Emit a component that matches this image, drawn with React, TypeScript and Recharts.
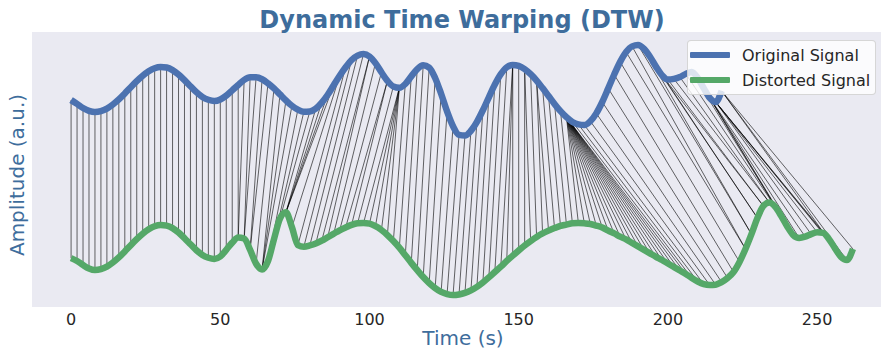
import React from "react";
import { LineChart, Line, XAxis, YAxis, CartesianGrid } from "recharts";

// sampling step of both signals (s)
const SAMPLE_STEP = 2;

// Original signal, sampled every 2 s from t = 0 to 218 (a.u.)
const originalSignal = [
  -0.32, -0.44, -0.57, -0.66, -0.70, -0.67, -0.59, -0.46, -0.30, -0.11,
  0.09, 0.28, 0.45, 0.59, 0.69, 0.73, 0.71, 0.63, 0.49, 0.31,
  0.12, -0.07, -0.22, -0.31, -0.35, -0.30, -0.18, -0.01, 0.16, 0.32,
  0.40, 0.40, 0.34, 0.21, 0.05, -0.14, -0.33, -0.50, -0.62, -0.69,
  -0.68, -0.59, -0.40, -0.15, 0.15, 0.45, 0.72, 0.95, 1.09, 1.14,
  1.06, 0.85, 0.56, 0.29, 0.11, 0.07, 0.19, 0.43, 0.66, 0.78,
  0.71, 0.38, -0.12, -0.68, -1.15, -1.42, -1.44, -1.29, -1.01, -0.64,
  -0.23, 0.17, 0.50, 0.72, 0.79, 0.76, 0.66, 0.50, 0.30, 0.06,
  -0.19, -0.44, -0.67, -0.86, -1.01, -1.09, -1.11, -0.99, -0.74, -0.38,
  0.05, 0.49, 0.89, 1.20, 1.38, 1.42, 1.30, 1.05, 0.74, 0.47,
  0.33, 0.35, 0.41, 0.51, 0.57, 0.38, 0.06, -0.25, -0.38, -0.03,
];

// Distorted signal, sampled every 2 s from t = 0 to 262 (a.u., before display offset)
const distortedSignal = [
  -0.32, -0.41, -0.54, -0.65, -0.70, -0.67, -0.59, -0.46, -0.30, -0.11,
  0.09, 0.28, 0.45, 0.59, 0.69, 0.73, 0.71, 0.63, 0.49, 0.31,
  0.12, -0.07, -0.22, -0.31, -0.35, -0.27, -0.06, 0.17, 0.33, 0.30,
  -0.06, -0.50, -0.68, -0.41, 0.28, 0.93, 1.13, 0.66, 0.09, 0.04,
  0.08, 0.14, 0.23, 0.34, 0.45, 0.56, 0.65, 0.73, 0.78, 0.79,
  0.77, 0.69, 0.57, 0.41, 0.22, 0.01, -0.23, -0.47, -0.70, -0.92,
  -1.11, -1.27, -1.39, -1.46, -1.49, -1.47, -1.42, -1.34, -1.23, -1.09,
  -0.93, -0.76, -0.59, -0.41, -0.24, -0.08, 0.08, 0.22, 0.35, 0.46,
  0.55, 0.63, 0.70, 0.74, 0.78, 0.79, 0.78, 0.76, 0.71, 0.65,
  0.55, 0.46, 0.36, 0.27, 0.16, 0.05, -0.06, -0.17, -0.28, -0.38,
  -0.49, -0.60, -0.71, -0.82, -0.95, -1.06, -1.14, -1.17, -1.16, -1.08,
  -0.95, -0.76, -0.44, -0.03, 0.44, 0.95, 1.33, 1.44, 1.30, 1.01,
  0.68, 0.41, 0.32, 0.36, 0.44, 0.50, 0.48, 0.28, -0.01, -0.28,
  -0.38, -0.03,
];

// vertical offset used to display the distorted signal below the original
const DISTORTED_OFFSET = -5;

// DTW warping path: matched times (s) in the original / distorted signal
const pathOriginal = [
  0, 2, 4, 6, 8, 10, 12, 14, 16, 18, 20, 22, 24, 26, 28, 30, 32, 34, 36, 38, 40, 42, 44, 46, 48, 50, 52, 54,
  56, 58, 60, 62, 64, 66, 68, 70, 72, 74, 76, 78, 80, 82, 84, 86, 88,
  90, 92, 94, 96, 98, 100, 100, 102, 104, 106, 106, 108, 110, 110, 110, 110, 110, 112, 114, 116, 118, 120, 122,
  124, 126, 128, 130, 132, 134, 136, 138, 140, 142, 144, 146, 148, 148, 148, 150, 152, 152, 154, 156, 156, 158,
  160, 162, 164,
  166, 166, 166, 166, 166, 166, 166, 166, 166, 166, 166, 166, 166, 166, 166, 166, 166, 166, 166,
  168, 170, 172, 174, 176, 178, 180, 182, 184, 186, 188, 190, 192, 194, 196, 198, 200, 202, 204, 206, 208, 210,
  212, 214, 214, 216, 216, 216, 216, 216, 218, 218, 218,
];
const pathDistorted = [
  0, 2, 4, 6, 8, 10, 12, 14, 16, 18, 20, 22, 24, 26, 28, 30, 32, 34, 36, 38, 40, 42, 44, 46, 48, 50, 52, 54,
  56, 56, 58, 58, 60, 60, 62, 64, 64, 64, 66, 68, 70, 72, 72, 72, 72,
  74, 76, 78, 80, 82, 84, 86, 88, 90, 92, 94, 96, 98, 100, 102, 104, 106, 108, 110, 112, 114, 116, 118,
  120, 122, 124, 126, 128, 130, 132, 134, 136, 138, 140, 142, 144, 146, 148, 150, 152, 154, 156, 158, 160, 162,
  164, 166, 168,
  170, 172, 174, 176, 178, 180, 182, 184, 186, 188, 190, 192, 194, 196, 198, 200, 202, 204, 206,
  208, 210, 212, 214, 216, 218, 220, 222, 224, 226, 226, 228, 228, 230, 230, 232, 232, 234, 234, 236, 238, 240,
  242, 244, 246, 248, 250, 252, 254, 256, 258, 260, 262,
];

const seriesNames = ["Original Signal", "Distorted Signal"];
const seriesColors = ["#4C72B0", "#55A868"];
const xTicks = [0, 50, 100, 150, 200, 250];

const originalData = originalSignal.map((v, i) => ({ t: i * SAMPLE_STEP, v }));
const distortedData = distortedSignal.map((v, i) => ({ t: i * SAMPLE_STEP, v: v + DISTORTED_OFFSET }));

const connectorData: { t: number; v: number | null }[] = [];
pathOriginal.forEach((to, k) => {
  const td = pathDistorted[k];
  connectorData.push({ t: to, v: originalSignal[to / SAMPLE_STEP] });
  connectorData.push({ t: td, v: distortedSignal[td / SAMPLE_STEP] + DISTORTED_OFFSET });
  connectorData.push({ t: td, v: null });
});

const FONT = "'DejaVu Sans', Verdana, sans-serif";
const LABEL_COLOR = "#3E6D9C";

export default function App() {
  return (
    <div
      style={{
        position: "absolute",
        left: 0,
        top: 0,
        width: 881,
        height: 352,
        overflow: "hidden",
        background: "#ffffff",
        fontFamily: FONT,
      }}
    >
      <LineChart width={895} height={352} margin={{ top: 32, right: 3, bottom: 15, left: 32 }}>
        <CartesianGrid fill="#EAEAF2" stroke="none" horizontal={false} vertical={false} />
        <XAxis
          type="number"
          dataKey="t"
          domain={[-13.1, 275.1]}
          ticks={xTicks}
          allowDataOverflow
          axisLine={false}
          tickLine={false}
          height={30}
          tickMargin={1}
          tick={{ fontSize: 16, fill: "#262626", fontFamily: FONT }}
        />
        <YAxis type="number" domain={[-6.867, 1.835]} allowDataOverflow hide />
        <Line
          data={connectorData}
          dataKey="v"
          type="linear"
          stroke="#000000"
          strokeWidth={0.75}
          strokeOpacity={0.8}
          dot={false}
          activeDot={false}
          connectNulls={false}
          isAnimationActive={false}
          legendType="none"
        />
        <Line
          data={originalData}
          dataKey="v"
          name={seriesNames[0]}
          type="monotone"
          stroke={seriesColors[0]}
          strokeWidth={6.5}
          strokeLinejoin="round"
          dot={false}
          activeDot={false}
          isAnimationActive={false}
        />
        <Line
          data={distortedData}
          dataKey="v"
          name={seriesNames[1]}
          type="monotone"
          stroke={seriesColors[1]}
          strokeWidth={6.5}
          strokeLinejoin="round"
          dot={false}
          activeDot={false}
          isAnimationActive={false}
        />
      </LineChart>
      <svg
        width={881}
        height={352}
        style={{ position: "absolute", left: 0, top: 0, pointerEvents: "none" }}
      >
        <text x={462} y={28} textAnchor="middle" fontSize={24} fontWeight="bold" fill={LABEL_COLOR} fontFamily={FONT}>
          Dynamic Time Warping (DTW)
        </text>
        <text x={463} y={345} textAnchor="middle" fontSize={20} fill={LABEL_COLOR} fontFamily={FONT}>
          Time (s)
        </text>
        <text
          x={0}
          y={0}
          transform="translate(24,175) rotate(-90)"
          textAnchor="middle"
          fontSize={20}
          fill={LABEL_COLOR}
          fontFamily={FONT}
        >
          Amplitude (a.u.)
        </text>
      </svg>
      <div
        style={{
          position: "absolute",
          left: 687,
          top: 40,
          width: 189,
          height: 55,
          background: "rgba(255,255,255,0.8)",
          border: "1px solid rgba(204,204,204,0.8)",
          borderRadius: 4,
          boxSizing: "border-box",
        }}
      >
        {seriesNames.map((name, i) => (
          <div
            key={name}
            style={{ position: "absolute", left: 2, top: 4 + i * 25, height: 20, display: "flex", alignItems: "center" }}
          >
            <div style={{ width: 40, height: 6, background: seriesColors[i], borderRadius: 1 }} />
            <span style={{ marginLeft: 12, fontSize: 16, color: "#262626", fontFamily: FONT, whiteSpace: "nowrap" }}>
              {name}
            </span>
          </div>
        ))}
      </div>
    </div>
  );
}
